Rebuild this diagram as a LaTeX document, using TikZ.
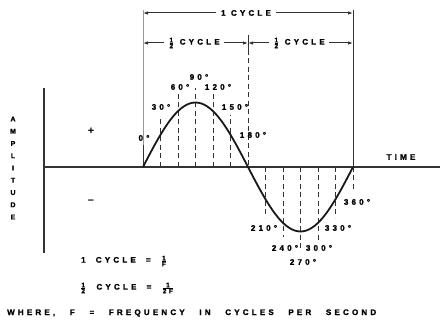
\documentclass[tikz,border=0pt]{standalone}
\usepackage{fontspec}
\setmainfont{Liberation Sans}
\usetikzlibrary{arrows.meta}
\newfontfamily\labfont{Liberation Sans}[LetterSpace=40, BoldFeatures={FakeBold=1.6}]
\newcommand\myfrac[2]{{\fontsize{6.5}{6.5}\selectfont$\frac{\mbox{#1}}{\mbox{#2}}$}}
\begin{document}
\begin{tikzpicture}[x=1pt,y=-1pt,
  lbl/.style={font=\labfont\bfseries\fontsize{8}{8}\selectfont, inner sep=0pt},
  axisline/.style={line width=1.3pt, draw=black!80},
  guide/.style={line width=1pt, draw=black!80, dash pattern=on 5pt off 3.5pt},
  dim/.style={line width=1pt, draw=black!80},
  tip/.style={-{Latex[length=5pt,width=3.5pt]}},
  wave/.style={line width=1.8pt, draw=black!90}]
\useasboundingbox (0,0) rectangle (444,320);
% axes
\coordinate (vt) at (44,88); \coordinate (vb) at (44,253);
\coordinate (hl) at (44,167); \coordinate (hr) at (440,167);
\draw[axisline] (vt) -- (vb);
\draw[axisline] (hl) -- (hr);
% cycle boundaries
\coordinate (O) at (143,167); \coordinate (E) at (353,167); \coordinate (H) at (248,167);
\coordinate (Ltop) at (143,10); \coordinate (Lmid) at (143,145);
\coordinate (Rtop) at (353,10);
\coordinate (Mtop) at (248,35); \coordinate (Mmid) at (248,50);
\draw[dim, draw=black!40] (Ltop) -- (Lmid);
\draw[dim] (Lmid) -- (O);
\draw[dim] (Rtop) -- (E);
\draw[dim] (Mtop) -- (Mmid);
\draw[guide] (Mmid) -- (H);
% dimension arrows
\coordinate (a1) at (143,13); \coordinate (a2) at (353,13);
\coordinate (b1) at (143,43); \coordinate (b2) at (248,43); \coordinate (b3) at (353,43);
\node[lbl, inner xsep=5pt] (one) at (246,13) {1 CYCLE};
\node[lbl, inner xsep=4pt] (h1) at (194,43) {\myfrac{1}{2} CYCLE};
\node[lbl, inner xsep=4pt] (h2) at (299,43) {\myfrac{1}{2} CYCLE};
\draw[dim,tip] (one.west) -- (a1);
\draw[dim,tip] (one.east) -- (a2);
\draw[dim,tip] (h1.west) -- (b1);
\draw[dim,tip] (h1.east) -- (b2);
\draw[dim,tip] (h2.west) -- (b2);
\draw[dim,tip] (h2.east) -- (b3);
% guides
\foreach \a/\t in {30/116, 60/92, 90/88, 120/93, 150/115, 210/218, 240/237, 270/252, 300/240, 330/218, 360/192}
  \draw[guide] ({143+\a/360*210},167) -- ({143+\a/360*210},\t);
% wave
\draw[wave] plot[smooth, domain=0:360, samples=73] ({143+\x/360*210},{167-64.5*sin(\x)});
% degree labels
\foreach \p/\t in {{(144,138)}/0, {(161,107)}/30, {(180,87)}/60, {(199,77)}/90, {(218,87)}/120, {(235,107)}/150, {(253,135)}/180, {(264,228)}/210, {(285,248)}/240, {(303,262)}/270, {(319,248)}/300, {(338,228)}/330, {(357,202)}/360}
  \node[lbl] (d\t) at \p {\t°};
% side labels
\node[font=\bfseries\fontsize{11}{11}\selectfont, inner sep=0pt] (plus) at (91,131) {+};
\node[font=\bfseries\fontsize{11}{11}\selectfont, inner sep=0pt] (minus) at (91,202) {–};
\node[lbl, align=center, font=\labfont\bfseries\fontsize{7}{12.25}\selectfont] (amp) at (13,168) {A\\M\\P\\L\\I\\T\\U\\D\\E};
\node[lbl] (time) at (401,157) {TIME};
% formulas
\node[lbl, anchor=west] (f1) at (81,261) {\makebox[86pt][s]{1 CYCLE = \myfrac{1}{F}}};
\node[lbl, anchor=west] (f2) at (80,288) {\makebox[94pt][s]{\myfrac{1}{2} CYCLE = \myfrac{1}{2F}}};
\node[lbl, anchor=west] (where) at (7,313) {\makebox[369pt][s]{WHERE, F = FREQUENCY IN CYCLES PER SECOND}};
\end{tikzpicture}
\end{document}
